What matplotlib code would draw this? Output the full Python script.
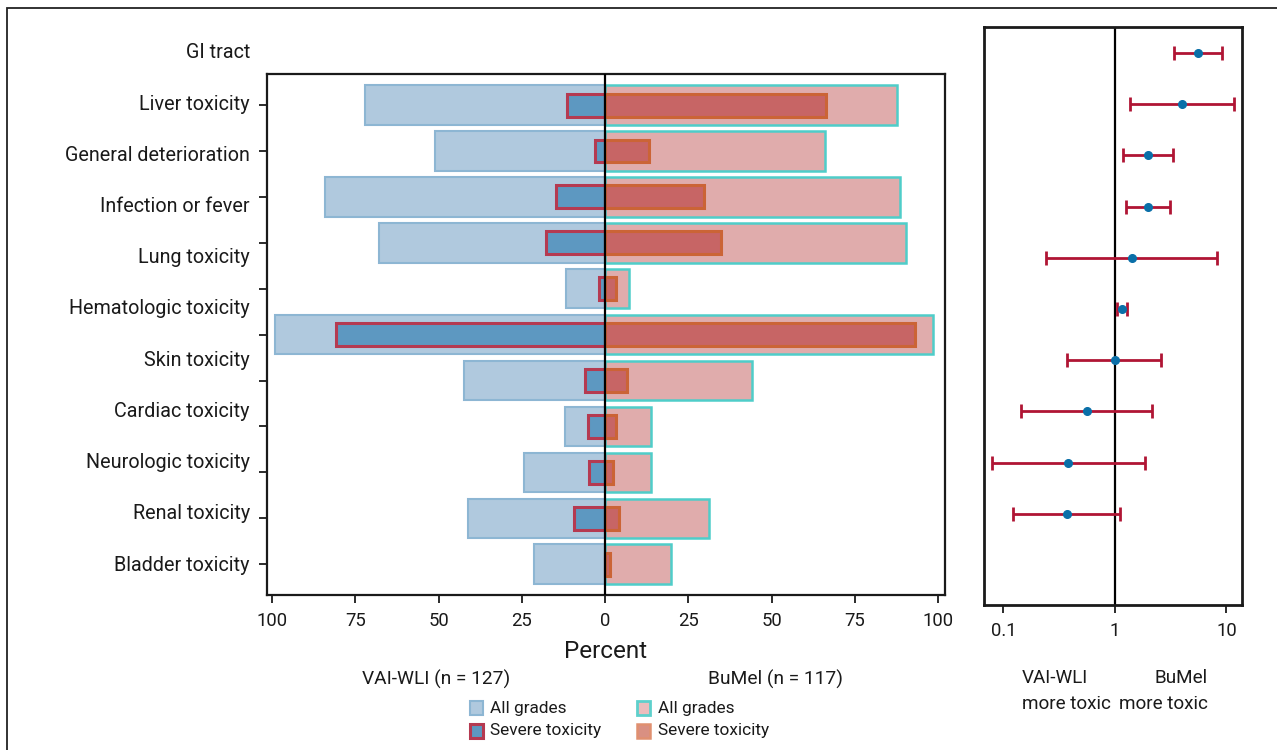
import matplotlib
matplotlib.use("Agg")
import matplotlib.pyplot as plt
from matplotlib import font_manager
from matplotlib.patches import Rectangle
from matplotlib.transforms import blended_transform_factory
import numpy as np

# ---------------- data ----------------
labels = ["GI tract", "Liver toxicity", "General deterioration", "Infection or fever",
          "Lung toxicity", "Hematologic toxicity", "Skin toxicity", "Cardiac toxicity",
          "Neurologic toxicity", "Renal toxicity", "Bladder toxicity"]

# bars (11 rows, as drawn in the left panel)
vai_all = [72, 51, 84, 68, 11.7, 99, 42.4, 12, 24.5, 41.2, 21.5]
vai_severe = [11.5, 3.2, 14.7, 17.7, 1.9, 80.8, 6.1, 5.1, 4.8, 9.5, 0]
bumel_all = [87.7, 66.1, 88.6, 90.3, 7.0, 98.3, 44.0, 13.8, 13.8, 31.2, 19.7]
bumel_severe = [66.2, 13.1, 29.6, 34.7, 3.2, 92.9, 6.6, 3.2, 2.4, 4.1, 1.5]

# odds ratios with 95% CI (right panel, one per label; last has none)
or_est = [5.52, 4.01, 1.99, 1.99, 1.42, 1.16, 1.00, 0.561, 0.379, 0.371, np.nan]
or_lo = [3.36, 1.36, 1.19, 1.25, 0.24, 1.04, 0.371, 0.1435, 0.0789, 0.1217, np.nan]
or_hi = [9.12, 11.7, 3.33, 3.09, 8.22, 1.28, 2.59, 2.15, 1.86, 1.11, np.nan]

pct_ticks = [-100, -75, -50, -25, 0, 25, 50, 75, 100]
or_ticks = [0.1, 1, 10]
or_ticklabels = ["0.1", "1", "10"]

legend_labels = ["All grades", "Severe toxicity", "All grades", "Severe toxicity"]

# ---------------- font ----------------
avail = {f.name for f in font_manager.fontManager.ttflist}
fam = "DejaVu Sans"
for cand in ["Roboto", "Liberation Sans"]:
    if cand in avail:
        fam = cand
        break
plt.rcParams["font.family"] = [fam, "DejaVu Sans"]
plt.rcParams["text.color"] = "#1a1a1a"

W, H = 1277, 750
fig = plt.figure(figsize=(W / 100, H / 100), dpi=100)

# outer frame
fig.add_artist(Rectangle((7 / W, -0.05), 1.2, 1.05 - 8 / H, transform=fig.transFigure,
                         fill=False, edgecolor="#222222", lw=1.3))

# ---------------- left panel ----------------
ax = fig.add_axes([266.7 / W, (H - 595) / H, 678.3 / W, 520.7 / H])
n = len(vai_all)
ypos = np.arange(n)

ax.barh(ypos, -np.array(vai_all), height=0.86, color="#B0C9DE", edgecolor="#8DB6D3",
        lw=1.5, zorder=2)
ax.barh(ypos, bumel_all, height=0.86, color="#E0ACAC", edgecolor="#4FCDC9",
        lw=1.8, zorder=2)
ax.barh(ypos, -np.array(vai_severe), height=0.5, color="#5D98C1", edgecolor="#B53A51",
        lw=2.2, zorder=3)
ax.barh(ypos, bumel_severe, height=0.5, color="#C76565", edgecolor="#CB6436",
        lw=2.2, zorder=3)
ax.axvline(0, color="black", lw=1.6, zorder=5)

ax.set_xlim(-101.6, 102)
ax.set_ylim(n - 1 + 0.67, -0.67)
ax.set_yticks(ypos)
ax.set_yticklabels([])
ax.set_xticks(pct_ticks)
ax.set_xticklabels([str(abs(t)) for t in pct_ticks], fontsize=13.3)
ax.tick_params(axis="both", direction="out", length=6, width=1.3, colors="#1a1a1a", pad=6)
for s in ax.spines.values():
    s.set_linewidth(1.6)
    s.set_color("#1a1a1a")

# ---------------- right panel ----------------
ax2 = fig.add_axes([984.3 / W, (H - 605) / H, 257.4 / W, 577.7 / H])
m = len(labels)
yy = np.arange(m)
est = np.array(or_est)
err = np.vstack([est - np.array(or_lo), np.array(or_hi) - est])
ax2.errorbar(est, yy, xerr=err, fmt="none", ecolor="#B01534", elinewidth=2.0,
             capsize=4.8, capthick=2.0, zorder=3)
ax2.plot(est, yy, "o", color="#0A6FA8", ms=5.5, zorder=4)
ax2.axvline(1, color="black", lw=1.6, zorder=2)
ax2.set_xscale("log")
ax2.set_xlim(0.0673, 13.7)
ax2.set_ylim(10.78, -0.5)
ax2.set_yticks([])
ax2.set_xticks(or_ticks)
ax2.set_xticklabels(or_ticklabels, fontsize=13.3)
ax2.xaxis.set_minor_locator(matplotlib.ticker.NullLocator())
ax2.tick_params(axis="x", direction="out", length=6, width=1.3, colors="#1a1a1a", pad=6)
for s in ax2.spines.values():
    s.set_linewidth(2.0)
    s.set_color("#1a1a1a")

# category labels aligned with right panel rows
tr = blended_transform_factory(fig.transFigure, ax2.transData)
for i, lab in enumerate(labels):
    ax2.text(250 / W, i, lab, transform=tr, ha="right", va="center", fontsize=14.2,
             clip_on=False)

# ---------------- texts ----------------
fig.text(606 / W, 1 - 651 / H, "Percent", ha="center", va="center", fontsize=17.5)
fig.text(436 / W, 1 - 679 / H, "VAI-WLI (n = 127)", ha="center", va="center", fontsize=13.8)
fig.text(775 / W, 1 - 679 / H, "BuMel (n = 117)", ha="center", va="center", fontsize=13.8)
fig.text(1022 / W, 1 - 678 / H, "VAI-WLI", ha="left", va="center", fontsize=13.6)
fig.text(1022 / W, 1 - 704 / H, "more toxic", ha="left", va="center", fontsize=13.6)
fig.text(1208 / W, 1 - 678 / H, "BuMel", ha="right", va="center", fontsize=13.6)
fig.text(1208 / W, 1 - 704 / H, "more toxic", ha="right", va="center", fontsize=13.6)

# ---------------- legend (manual) ----------------
leg_faces = ["#B0C9DE", "#5D98C1", "#EBBDBD", "#D99082"]
leg_edges = ["#8DB6D3", "#B53A51", "#5ED0CC", "#E09070"]
leg_lw = [1.5, 2.2, 2.0, 1.8]
leg_box_x = [470, 470, 637, 637]
leg_text_x = [490, 490, 658, 658]
leg_row_y = [708, 731, 708, 731]
for lab, fc, ec, lw, bx, tx, ry in zip(legend_labels, leg_faces, leg_edges, leg_lw,
                                       leg_box_x, leg_text_x, leg_row_y):
    fig.add_artist(Rectangle((bx / W, 1 - (ry + 7) / H), 13 / W, 14 / H,
                             transform=fig.transFigure, facecolor=fc, edgecolor=ec, lw=lw))
    fig.text(tx / W, 1 - ry / H, lab, ha="left", va="center", fontsize=12.4)

fig.savefig("out.png", dpi=100)
